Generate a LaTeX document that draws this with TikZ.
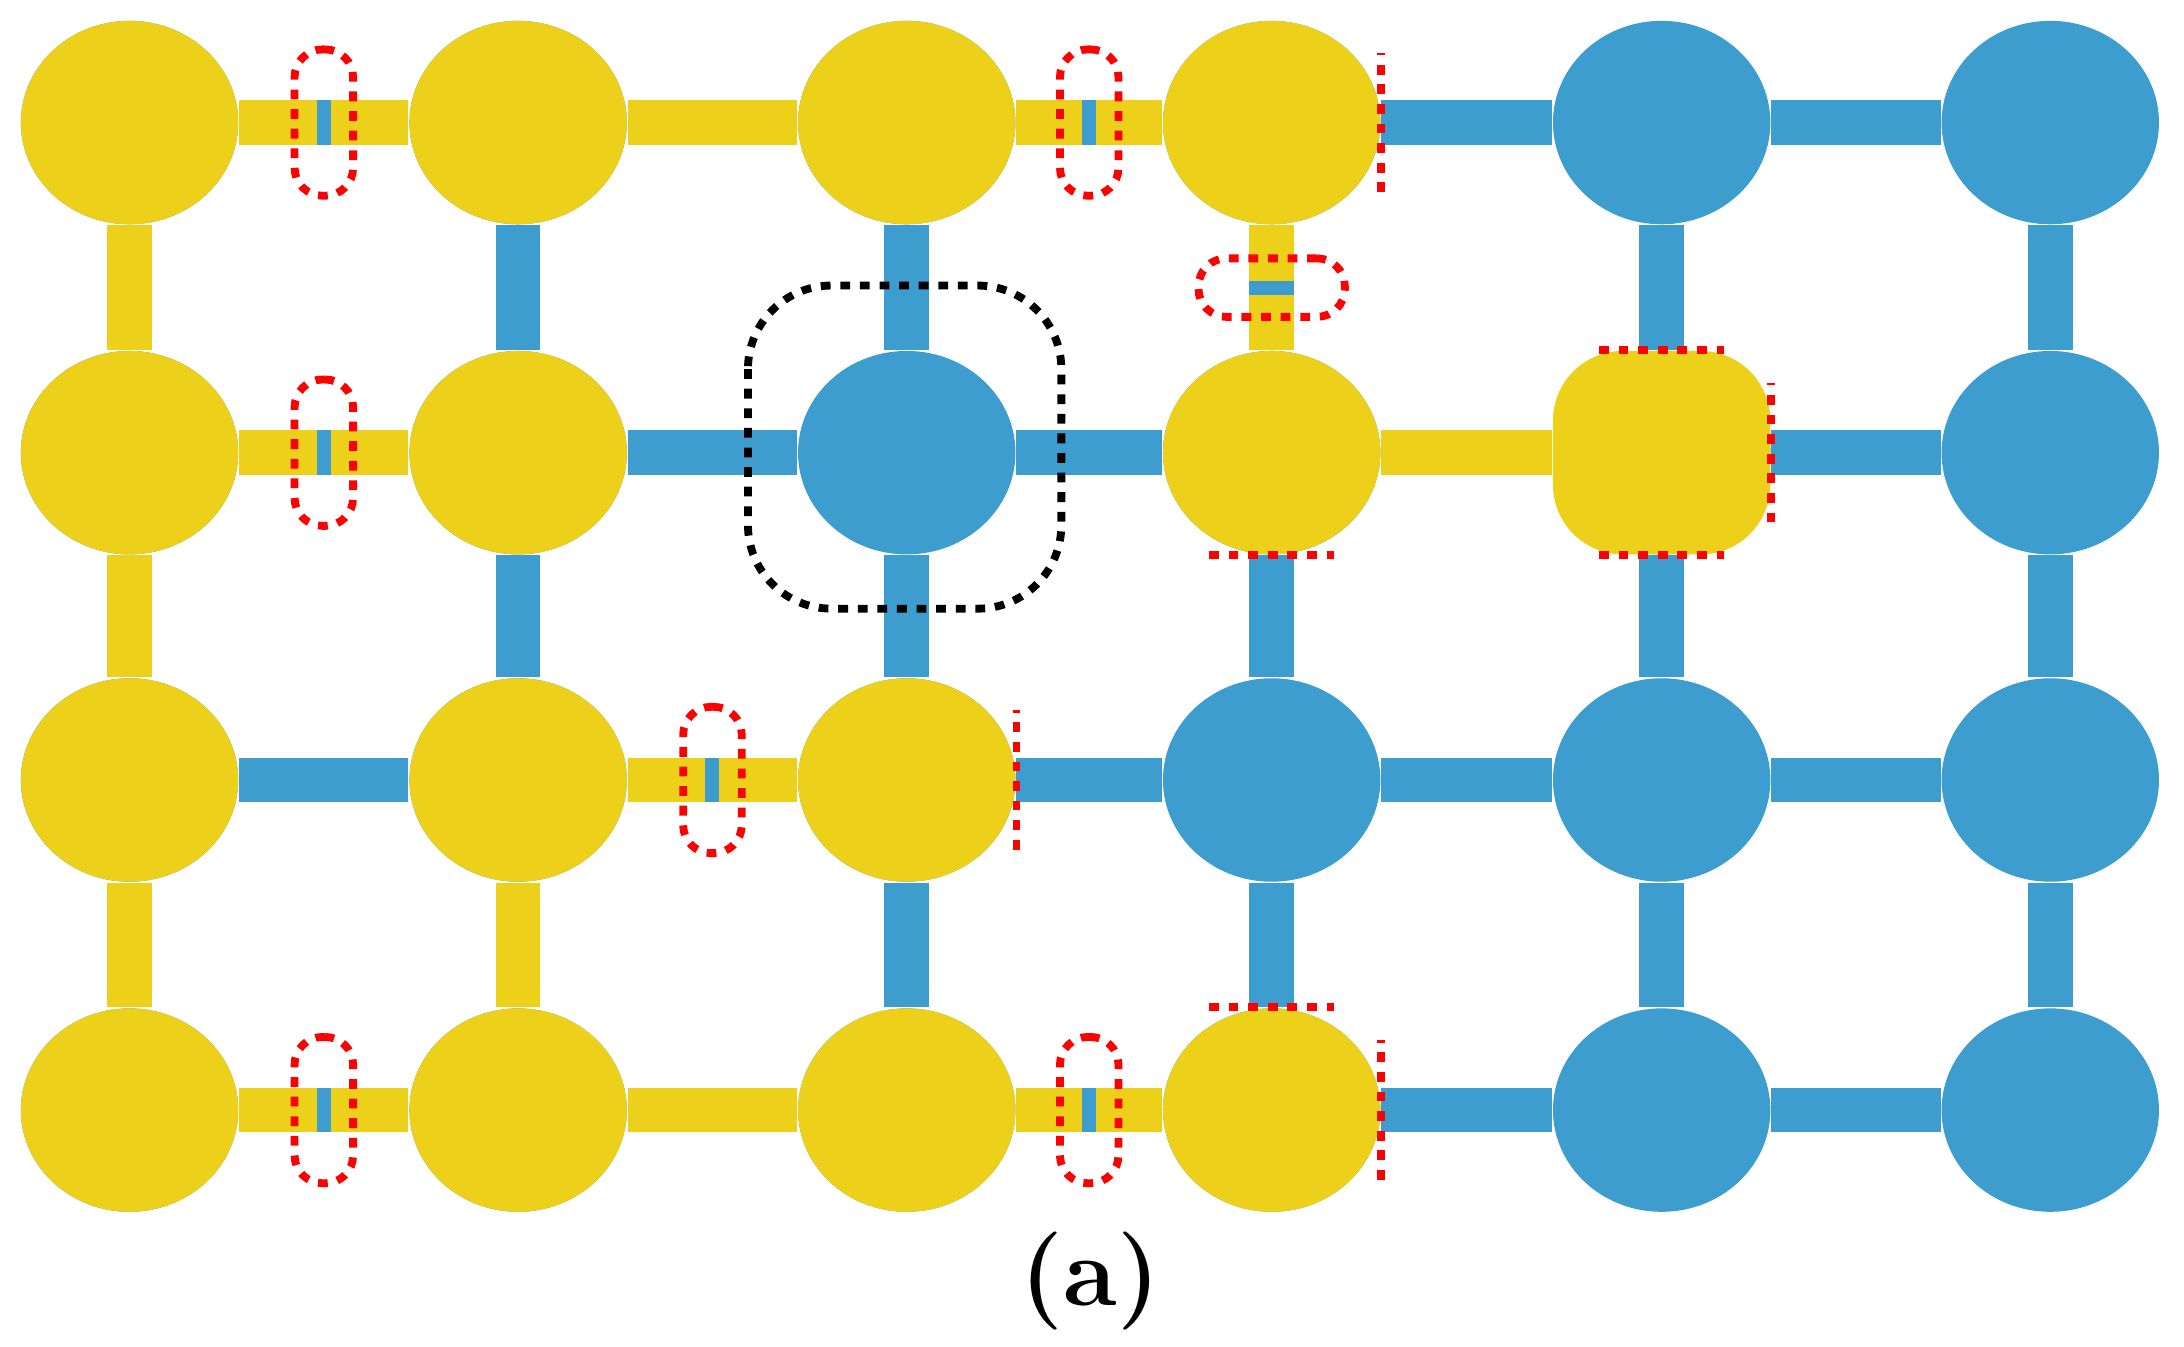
\documentclass[tikz,border=0pt]{standalone}
\usetikzlibrary{shapes.geometric,backgrounds}
\definecolor{gold}{RGB}{236,208,26}
\definecolor{sky}{RGB}{60,157,206}
\tikzset{
  site/.style={ellipse,minimum width=1.56cm,minimum height=1.46cm,inner sep=0pt,fill=#1},
  sq site/.style={rectangle,rounded corners=0.5cm,minimum width=1.56cm,minimum height=1.46cm,inner sep=0pt,fill=#1},
  bond/.style={line width=0.32cm,draw=#1},
  hbar/.style={rectangle,fill=sky,minimum width=0.1cm,minimum height=0.32cm,inner sep=0pt},
  vbar/.style={rectangle,fill=sky,minimum width=0.32cm,minimum height=0.1cm,inner sep=0pt},
  cut/.style={draw=red,line width=1.6pt,dash pattern=on 2pt off 2pt},
  hloop/.style={cut,rectangle,rounded corners=0.2cm,minimum width=0.42cm,minimum height=1.05cm,inner sep=0pt},
  vloop/.style={cut,rectangle,rounded corners=0.2cm,minimum width=1.05cm,minimum height=0.42cm,inner sep=0pt},
}
\begin{document}
\begin{tikzpicture}[x=0.01cm,y=-0.01cm]
\useasboundingbox (0,0) rectangle (1568,967);
% sites
\foreach \c/\x in {0/93,1/372,2/651,3/913,4/1193,5/1472}
  \foreach \r/\y in {0/88,1/325,2/560,3/797}
    \node[site=sky] (n-\c-\r) at (\x,\y) {};
\foreach \c/\r in {0/0,1/0,2/0,3/0,0/1,1/1,3/1,0/2,1/2,2/2,0/3,1/3,2/3,3/3}
  \node[site=gold] at (n-\c-\r) {};
\node[sq site=gold] at (n-4-1) {};
% bonds
\begin{scope}[on background layer]
\foreach \a/\b in {0-0/1-0,1-0/2-0,2-0/3-0,0-1/1-1,3-1/4-1,1-2/2-2,0-3/1-3,1-3/2-3,2-3/3-3,
  0-0/0-1,0-1/0-2,0-2/0-3,1-2/1-3,3-0/3-1}
  \draw[bond=gold] (n-\a) -- (n-\b);
\foreach \a/\b in {3-0/4-0,4-0/5-0,1-1/2-1,2-1/3-1,4-1/5-1,0-2/1-2,2-2/3-2,3-2/4-2,4-2/5-2,3-3/4-3,4-3/5-3,
  1-0/1-1,1-1/1-2,2-0/2-1,2-1/2-2,2-2/2-3,3-1/3-2,3-2/3-3,4-0/4-1,4-1/4-2,4-2/4-3,5-0/5-1,5-1/5-2,5-2/5-3}
  \draw[bond=sky] (n-\a) -- (n-\b);
\end{scope}
% broken bonds
\foreach \a/\b in {0-0/1-0,2-0/3-0,0-1/1-1,1-2/2-2,0-3/1-3,2-3/3-3}
  \path (n-\a) -- node[hbar]{} node[hloop]{} (n-\b);
\path (n-3-0) -- node[vbar]{} node[vloop]{} (n-3-1);
% boundaries
\draw[cut] ([yshift=-0.5cm]n-3-0.east) -- ([yshift=0.5cm]n-3-0.east);
\draw[cut] ([yshift=-0.5cm]n-3-3.east) -- ([yshift=0.5cm]n-3-3.east);
\draw[cut] ([yshift=-0.5cm]n-2-2.east) -- ([yshift=0.5cm]n-2-2.east);
\draw[cut] ([xshift=-0.45cm]n-3-1.south) -- ([xshift=0.45cm]n-3-1.south);
\draw[cut] ([xshift=-0.45cm]n-3-3.north) -- ([xshift=0.45cm]n-3-3.north);
\draw[cut] ([xshift=-0.45cm]n-4-1.north) -- ([xshift=0.45cm]n-4-1.north);
\draw[cut] ([xshift=-0.45cm]n-4-1.south) -- ([xshift=0.45cm]n-4-1.south);
\draw[cut] ([yshift=-0.5cm]n-4-1.east) -- ([yshift=0.5cm]n-4-1.east);
% cell
\draw[line width=1.6pt,dash pattern=on 2pt off 2pt,rounded corners=0.6cm]
  (537,205) rectangle (762,437);
\node[font=\fontsize{20}{24}\selectfont\bfseries] (lab) at (783,920) {(a)};
\end{tikzpicture}
\end{document}
